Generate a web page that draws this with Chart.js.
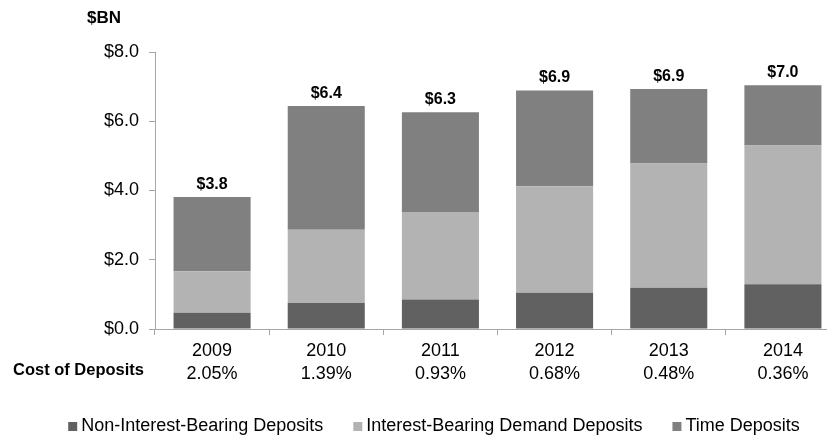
<!DOCTYPE html>
<html>
<head>
<meta charset="utf-8">
<script src="https://cdn.jsdelivr.net/npm/chart.js@4.4.1/dist/chart.umd.min.js"></script>
<style>
  html, body { margin: 0; padding: 0; background: #fff; overflow: hidden; }
  #wrap { width: 870px; height: 436px; }
</style>
</head>
<body>
<div id="wrap"><canvas id="depositsChart"></canvas></div>
<script>
// Depósitos por año ($BN), apilados por tipo
const years = ['2009', '2010', '2011', '2012', '2013', '2014'];
const costOfDeposits = ['2.05%', '1.39%', '0.93%', '0.68%', '0.48%', '0.36%'];

const nonInterestBearing = [0.47, 0.75, 0.85, 1.05, 1.19, 1.29];
const interestBearingDemand = [1.20, 2.12, 2.53, 3.07, 3.59, 4.01];
const timeDeposits = [2.14, 3.57, 2.88, 2.77, 2.15, 1.74];

const yTicks = [0, 2, 4, 6, 8];

const FONT = '"Liberation Sans", Arial, sans-serif';
const AXIS_GRAY = '#a6a6a6';

// Etiquetas de total encima de cada barra + "$BN" + "Cost of Deposits" + leyenda
const extrasPlugin = {
    id: 'extras',
    afterDatasetsDraw(chart) {
        const ctx = chart.ctx;
        const y = chart.scales.y;
        const meta = chart.getDatasetMeta(0);
        ctx.save();
        ctx.fillStyle = '#000';
        ctx.textAlign = 'center';
        ctx.textBaseline = 'alphabetic';
        ctx.font = 'bold 16px ' + FONT;
        years.forEach((_, i) => {
            const total = chart.data.datasets.reduce((s, ds) => s + ds.data[i], 0);
            const px = y.getPixelForValue(total);
            ctx.fillText('$' + total.toFixed(1), meta.data[i].x, px - 8);
        });

        // unidad
        ctx.textAlign = 'left';
        ctx.font = 'bold 17px ' + FONT;
        ctx.fillText('$BN', 87, 23);

        // título de la fila de costos
        ctx.textAlign = 'right';
        ctx.fillText('Cost of Deposits', 144, 375, 131);

        // leyenda
        ctx.font = '18px ' + FONT;
        ctx.textAlign = 'left';
        const box = 9, gap = 4, spacing = 30;
        const items = chart.data.datasets.map(ds => ({
            label: ds.label, color: ds.backgroundColor,
            w: box + gap + ctx.measureText(ds.label).width
        }));
        const total = items.reduce((s, it) => s + it.w, 0) + spacing * (items.length - 1);
        let x = 434 - total / 2;
        items.forEach(it => {
            ctx.fillStyle = it.color;
            ctx.fillRect(x, 422, box, box);
            ctx.fillStyle = '#000';
            ctx.fillText(it.label, x + box + gap, 431);
            x += it.w + spacing;
        });
        ctx.restore();
    }
};

const ctx = document.getElementById('depositsChart').getContext('2d');
new Chart(ctx, {
    type: 'bar',
    data: {
        labels: years.map((yr, i) => [yr, costOfDeposits[i]]),
        datasets: [
            { label: 'Non-Interest-Bearing Deposits', data: nonInterestBearing, backgroundColor: '#616161' },
            { label: 'Interest-Bearing Demand Deposits', data: interestBearingDemand, backgroundColor: '#b3b3b3' },
            { label: 'Time Deposits', data: timeDeposits, backgroundColor: '#808080' }
        ]
    },
    options: {
        responsive: true,
        maintainAspectRatio: false,
        animation: false,
        layout: { padding: { top: 52, left: 0, right: 30, bottom: 0 } },
        datasets: { bar: { categoryPercentage: 1, barPercentage: 0.675 } },
        plugins: { legend: { display: false }, tooltip: { enabled: false } },
        scales: {
            x: {
                stacked: true,
                afterFit(scale) { scale.height = 436 - 329; },
                grid: { drawOnChartArea: false, drawTicks: true, tickLength: 6, color: AXIS_GRAY },
                border: { color: AXIS_GRAY },
                ticks: {
                    color: '#000',
                    padding: 5,
                    font: { family: FONT, size: 18, lineHeight: 1.25 }
                }
            },
            y: {
                stacked: true,
                min: 0,
                max: 8,
                afterFit(scale) { scale.width = 155; },
                afterBuildTicks(scale) { scale.ticks = yTicks.map(v => ({ value: v })); },
                grid: { drawOnChartArea: false, drawTicks: true, tickLength: 6, color: AXIS_GRAY },
                border: { color: AXIS_GRAY },
                ticks: {
                    color: '#000',
                    padding: 10,
                    font: { family: FONT, size: 18 },
                    callback: v => '$' + Number(v).toFixed(1)
                }
            }
        }
    },
    plugins: [extrasPlugin]
});
</script>
</body>
</html>
